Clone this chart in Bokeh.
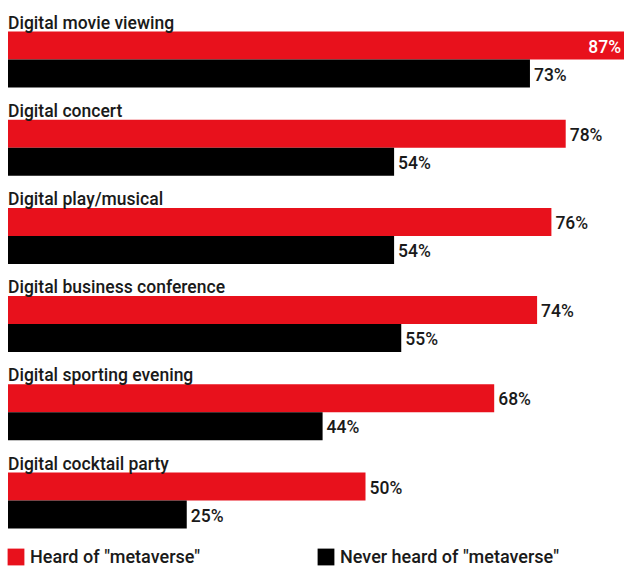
from bokeh.plotting import figure
from bokeh.models import Range1d, ColumnDataSource, Legend, LegendItem
from bokeh.core.properties import value
from bokeh.embed import file_html
from bokeh.resources import INLINE

categories = ["Digital movie viewing", "Digital concert", "Digital play/musical",
              "Digital business conference", "Digital sporting evening", "Digital cocktail party"]
heard = [87, 78, 76, 74, 68, 50]
never = [73, 54, 54, 55, 44, 25]
series_names = ['Heard of "metaverse"', 'Never heard of "metaverse"']

RED = "#E8111C"
BLACK = "#000000"
FONT = "Roboto Medium, Roboto"
TXT = "#1a1a1a"

W, H = 624, 568
px_per_pct = 7.15
left_pad = 7.5
group_px = 88.2

p = figure(width=W, height=H, output_backend="svg", toolbar_location=None,
           min_border=0, outline_line_color=None,
           x_range=Range1d(-left_pad / px_per_pct, (W - left_pad) / px_per_pct),
           y_range=Range1d(H / group_px, 0))
p.axis.visible = False
p.grid.visible = False
p.background_fill_color = "white"
p.border_fill_color = "white"

n = len(categories)
idx = list(range(n))
bar_h = 28 / group_px
red_y = [i + 45 / group_px for i in idx]
blk_y = [i + 73 / group_px for i in idx]
lab_y = [i + 22 / group_px for i in idx]

src_r = ColumnDataSource(dict(y=red_y, v=heard))
src_b = ColumnDataSource(dict(y=blk_y, v=never))
r_red = p.hbar(y="y", right="v", left=0, height=bar_h, source=src_r,
               fill_color=RED, line_color=None)
r_blk = p.hbar(y="y", right="v", left=0, height=bar_h, source=src_b,
               fill_color=BLACK, line_color=None)

p.text(x=[0] * n, y=lab_y, text=categories, text_font=value(FONT),
       text_font_size="17.5px", text_color=TXT,
       text_baseline="alphabetic", text_align="left")

xmax = (W - left_pad) / px_per_pct
for vals, ys in ((heard, red_y), (never, blk_y)):
    inside = [v + 5 > xmax for v in vals]
    for flag in (False, True):
        sel = [i for i in idx if inside[i] == flag]
        if not sel:
            continue
        p.text(x=[vals[i] for i in sel], y=[ys[i] for i in sel],
               text=[f"{vals[i]}%" for i in sel], text_font=value(FONT),
               text_font_size="17.5px",
               text_color="white" if flag else TXT,
               text_baseline="middle", text_align="right" if flag else "left",
               x_offset=-9 if flag else 4, y_offset=1)

for r, name, xloc in ((r_red, series_names[0], 5), (r_blk, series_names[1], 315)):
    lg = Legend(items=[LegendItem(label=name, renderers=[r])], location=(xloc, 1),
                orientation="horizontal", padding=0, margin=0, border_line_color=None,
                background_fill_alpha=0, glyph_width=21, glyph_height=21,
                label_height=21, label_standoff=4, label_text_font=FONT,
                label_text_font_size="18px", label_text_color=TXT,
                label_text_baseline="middle")
    p.add_layout(lg, "center")

open("out.html", "w").write(file_html(p, INLINE))
